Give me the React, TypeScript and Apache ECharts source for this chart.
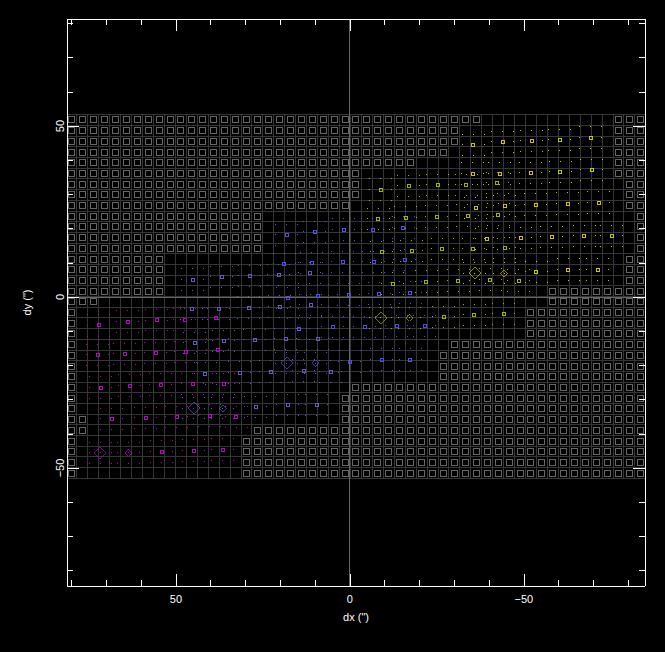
import React, { useEffect, useRef } from "react";
import * as echarts from "echarts";

const X_MIN = -84.8;
const X_MAX = 81.3;
const Y_MIN = -84.5;
const Y_MAX = 81.3;

const majorTicks = [-50, 0, 50];
const minorTicksX = [-80, -70, -60, -40, -30, -20, -10, 10, 20, 30, 40, 60, 70, 80];
const minorTicksY = [-80, -70, -60, -40, -30, -20, -10, 10, 20, 30, 40, 60, 70, 80];
const tickLabels: Record<string, string> = { "-50": "\u221250", "0": "0", "50": "50" };
const xName = 'dx (")';
const yName = 'dy (")';

// Detector cell centres (arcsec)
const cellX = [
  80.0, 76.9, 73.7, 70.6, 67.4, 64.3, 61.1, 58.0, 54.8, 51.7, 48.6, 45.4, 42.3, 39.1, 36.0, 32.8, 29.7, 26.6,
  23.4, 20.3, 17.1, 14.0, 10.8, 7.7, 4.5, 1.4, -1.7, -4.9, -8.0, -11.2, -14.3, -17.5, -20.6, -23.8, -26.9, -30.0,
  -33.2, -36.3, -39.5, -42.6, -45.8, -48.9, -52.0, -55.2, -58.3, -61.5, -64.6, -67.8, -70.9, -74.1, -77.2, -80.3, -83.5,
];
const cellY = [
  51.8, 48.6, 45.5, 42.4, 39.2, 36.1, 33.0, 29.9, 26.7, 23.6, 20.5, 17.3, 14.2, 11.1, 8.0, 4.8, 1.7, -1.4, -4.5,
  -7.7, -10.8, -13.9, -17.1, -20.2, -23.3, -26.4, -29.6, -32.7, -35.8, -38.9, -42.1, -45.2, -48.3, -51.5,
];
const gridEdgeLeft = 81.3;
const gridEdgeRight = -84.8;
const gridEdgeTop = 53.3;
const gridEdgeBottom = -53.1;

// For each row: last empty cell of the left block, first empty cell of the right block
const emptyLeftEnd = [37, 35, 35, 34, 31, 26, 26, 26, 25, 17, 17, 17, 17, 8, 8, 8, 8, 2, 0, 0, 0, 0, 0, 0, 0, 0, 0, 0, 1, 1, 0, 0, 0, 0];
const emptyRightStart = [50, 50, 50, 50, 50, 50, 51, 51, 51, 52, 52, 52, 52, 51, 51, 51, 44, 44, 42, 42, 42, 35, 34, 34, 34, 26, 25, 25, 25, 17, 16, 16, 16, 16];

// Dither pattern round every pointing
const ditherOffsets = [
  [-3.15, 3.13], [0, 3.13], [3.15, 3.13],
  [-3.15, 0], [3.15, 0],
  [-3.15, -3.13], [0, -3.13], [3.15, -3.13],
];

const magentaPoints = [
  [72.2, -8.3], [63.9, -7.2], [55.5, -6.8], [47.5, -6.6], [38.6, -6.1],
  [72.5, -16.9], [64.7, -16.6], [55.8, -16.3], [47.2, -16.0], [38.0, -15.4],
  [71.6, -26.5], [63.3, -25.9], [54.4, -25.6], [45.2, -25.4], [36.3, -25.4],
  [68.5, -35.6], [58.7, -35.3], [49.8, -35.0], [40.3, -34.7], [32.6, -35.0],
  [54.1, -45.2], [44.9, -44.9], [36.6, -44.6],
];
const magentaBig = [[71.8, -45.6]];
const magentaSmall = [[63.5, -45.6]];

const slatePoints = [
  [45.2, 5.1], [36.9, 5.9], [28.8, 6.2], [20.5, 6.5], [11.6, 7.1],
  [45.5, -3.4], [37.7, -3.4], [29.1, -3.1], [20.2, -2.8], [11.3, -2.3],
  [44.6, -13.4], [36.3, -12.8], [27.4, -12.5], [18.5, -12.2], [9.3, -12.2],
  [41.5, -22.4], [31.7, -22.1], [22.8, -21.8], [13.3, -21.5], [5.5, -21.8],
  [27.1, -32.1], [17.9, -31.5], [9.6, -31.5],
];
const slateBig = [[44.9, -32.5]];
const slateSmall = [[36.5, -32.5]];

const bluePoints = [
  [18.2, 18.2], [10.1, 19.1], [1.8, 19.7], [-6.5, 19.7], [-15.4, 20.3],
  [18.8, 9.7], [11.0, 10.0], [2.1, 10.3], [-6.8, 10.3], [-15.7, 10.9],
  [17.9, -0.2], [9.3, 0.4], [0.4, 0.7], [-8.5, 1.0], [-17.4, 1.3],
  [14.7, -9.3], [5.0, -8.7], [-4.2, -8.7], [-13.4, -8.4], [-21.5, -8.4],
  [0.1, -18.9], [-9.1, -18.3], [-17.4, -18.3],
];
const blueBig = [[18.1, -19.3]];
const blueSmall = [[9.8, -19.3]];

const olivePoints = [
  [-8.8, 31.4], [-16.9, 32.5], [-25.2, 32.8], [-33.5, 32.8], [-42.4, 33.4],
  [-8.2, 22.9], [-16.0, 23.2], [-24.9, 23.5], [-33.8, 23.8], [-42.7, 24.1],
  [-9.1, 13.2], [-17.7, 13.5], [-26.6, 14.1], [-35.5, 14.1], [-44.5, 14.4],
  [-12.3, 3.9], [-22.0, 4.5], [-31.2, 4.8], [-40.4, 5.1], [-48.5, 4.8],
  [-26.9, -5.8], [-35.8, -5.2], [-44.2, -4.9],
];
const oliveBig = [[-8.9, -6.1]];
const oliveSmall = [[-17.2, -6.1]];

const yellowPoints = [
  [-35.5, 44.5], [-43.9, 45.4], [-52.2, 45.7], [-60.3, 46.0], [-69.2, 46.6],
  [-35.3, 36.1], [-43.0, 36.1], [-51.9, 36.3], [-60.5, 36.6], [-69.5, 37.2],
  [-36.1, 26.1], [-44.5, 26.7], [-53.4, 27.0], [-62.6, 27.3], [-71.5, 27.6],
  [-39.3, 17.0], [-49.1, 17.3], [-58.0, 17.6], [-67.4, 17.9], [-75.2, 17.9],
  [-53.6, 7.4], [-62.8, 8.0], [-71.2, 8.0],
];
const yellowBig = [[-35.9, 7.0]];
const yellowSmall = [[-44.3, 7.0]];

const sets = [
  { color: "#b800c8", points: magentaPoints, big: magentaBig, small: magentaSmall },
  { color: "#5c5cc8", points: slatePoints, big: slateBig, small: slateSmall },
  { color: "#5050f0", points: bluePoints, big: blueBig, small: blueSmall },
  { color: "#a2b400", points: olivePoints, big: oliveBig, small: oliveSmall },
  { color: "#c8c800", points: yellowPoints, big: yellowBig, small: yellowSmall },
];

const GRAY_LINE = "#353535";
const GRAY_MARK = "#666666";

function edges(centres: number[], first: number, last: number) {
  const out = [first];
  for (let i = 0; i + 1 < centres.length; i++) out.push((centres[i] + centres[i + 1]) / 2);
  out.push(last);
  return out;
}

function buildOption() {
  const xEdges = edges(cellX, gridEdgeLeft, gridEdgeRight);
  const yEdges = edges(cellY, gridEdgeTop, gridEdgeBottom);
  const gridLines: any[] = [];
  xEdges.forEach((x) => gridLines.push([x, gridEdgeBottom], [x, gridEdgeTop], [x, "-"]));
  yEdges.forEach((y) => gridLines.push([gridEdgeRight, y], [gridEdgeLeft, y], ["-", y]));

  const empty: number[][] = [];
  cellY.forEach((y, j) => {
    cellX.forEach((x, i) => {
      if (i <= emptyLeftEnd[j] || i >= emptyRightStart[j]) empty.push([x, y]);
    });
  });

  const base = { xAxisIndex: 0, yAxisIndex: 0, silent: true, animation: false };
  const hollow = (color: string, width: number) => ({ color: "transparent", borderColor: color, borderWidth: width, opacity: 1 });
  const series: any[] = [
    {
      ...base, type: "line", data: gridLines, showSymbol: false, symbol: "none", connectNulls: false,
      lineStyle: { color: GRAY_LINE, width: 1 }, z: 1,
    },
    {
      ...base, type: "line", data: [[0, Y_MIN], [0, Y_MAX], [0, "-"], [X_MIN, 0], [X_MAX, 0]], showSymbol: false,
      symbol: "none", lineStyle: { color: GRAY_MARK, width: 1 }, z: 2,
    },
    {
      ...base, type: "scatter", data: empty, symbol: "rect", symbolSize: 6,
      itemStyle: hollow(GRAY_MARK, 1), z: 3,
    },
  ];

  sets.forEach((s) => {
    const centres = [...s.points, ...s.big, ...s.small];
    const dots: number[][] = [];
    centres.forEach(([x, y]) => ditherOffsets.forEach(([ox, oy]) => dots.push([x + ox, y + oy])));
    [...s.big, ...s.small].forEach((p) => dots.push(p));
    series.push(
      {
        ...base, type: "scatter", data: dots, symbol: "rect", symbolSize: 1,
        itemStyle: { color: s.color, opacity: 1 }, z: 4,
      },
      {
        ...base, type: "scatter", data: s.points, symbol: "rect", symbolSize: 3,
        itemStyle: hollow(s.color, 1), z: 5,
      },
      {
        ...base, type: "scatter", data: s.big, symbol: "diamond", symbolSize: 12,
        itemStyle: hollow(s.color, 0.7), z: 5,
      },
      {
        ...base, type: "scatter", data: s.small, symbol: "diamond", symbolSize: 7,
        itemStyle: hollow(s.color, 0.7), z: 5,
      }
    );
  });

  const line = { show: true, onZero: false, lineStyle: { color: "#ffffff", width: 1 } };
  const font = { color: "#ffffff", fontFamily: "Liberation Sans", fontSize: 11 };
  const commonX = { type: "value", z: 20, min: X_MIN, max: X_MAX, inverse: true, axisLine: line, splitLine: { show: false }, minorTick: { show: false } };
  const commonY = { type: "value", z: 20, min: Y_MIN, max: Y_MAX, axisLine: line, splitLine: { show: false }, minorTick: { show: false } };
  const ticks = (values: number[], length: number) => ({
    show: true, inside: true, length, customValues: values, lineStyle: { color: "#ffffff", width: 1 },
  });
  const format = (v: number) => tickLabels[String(v)] ?? String(v);

  return {
    animation: false,
    backgroundColor: "#000000",
    grid: { left: 67, top: 19, width: 578, height: 567, containLabel: false },
    xAxis: [
      {
        ...commonX, position: "bottom", axisTick: ticks(majorTicks, 12),
        axisLabel: { ...font, show: true, customValues: majorTicks, margin: 7, formatter: format },
        name: xName, nameLocation: "middle", nameGap: 25, nameTextStyle: font,
      },
      { ...commonX, position: "bottom", axisTick: ticks(minorTicksX, 6), axisLabel: { show: false } },
      { ...commonX, position: "top", axisTick: ticks(majorTicks, 12), axisLabel: { show: false } },
      { ...commonX, position: "top", axisTick: ticks(minorTicksX, 6), axisLabel: { show: false } },
    ],
    yAxis: [
      {
        ...commonY, position: "left", axisTick: ticks(majorTicks, 12),
        axisLabel: { ...font, show: true, customValues: majorTicks, margin: 2, rotate: 90, formatter: format },
        name: yName, nameLocation: "middle", nameGap: 35, nameRotate: 90, nameTextStyle: font,
      },
      { ...commonY, position: "left", axisTick: ticks(minorTicksY, 6), axisLabel: { show: false } },
      { ...commonY, position: "right", axisTick: ticks(majorTicks, 12), axisLabel: { show: false } },
      { ...commonY, position: "right", axisTick: ticks(minorTicksY, 6), axisLabel: { show: false } },
    ],
    series,
  };
}

export default function App() {
  const ref = useRef<HTMLDivElement>(null);
  useEffect(() => {
    const chart = echarts.init(ref.current!, null, { renderer: "svg", width: 665, height: 652 });
    chart.setOption(buildOption() as any);
    return () => chart.dispose();
  }, []);
  return (
    <>
      <style>{"svg path{shape-rendering:crispEdges}"}</style>
      <div ref={ref} style={{ position: "absolute", left: 0, top: 0, width: 665, height: 652, background: "#000" }} />
    </>
  );
}
